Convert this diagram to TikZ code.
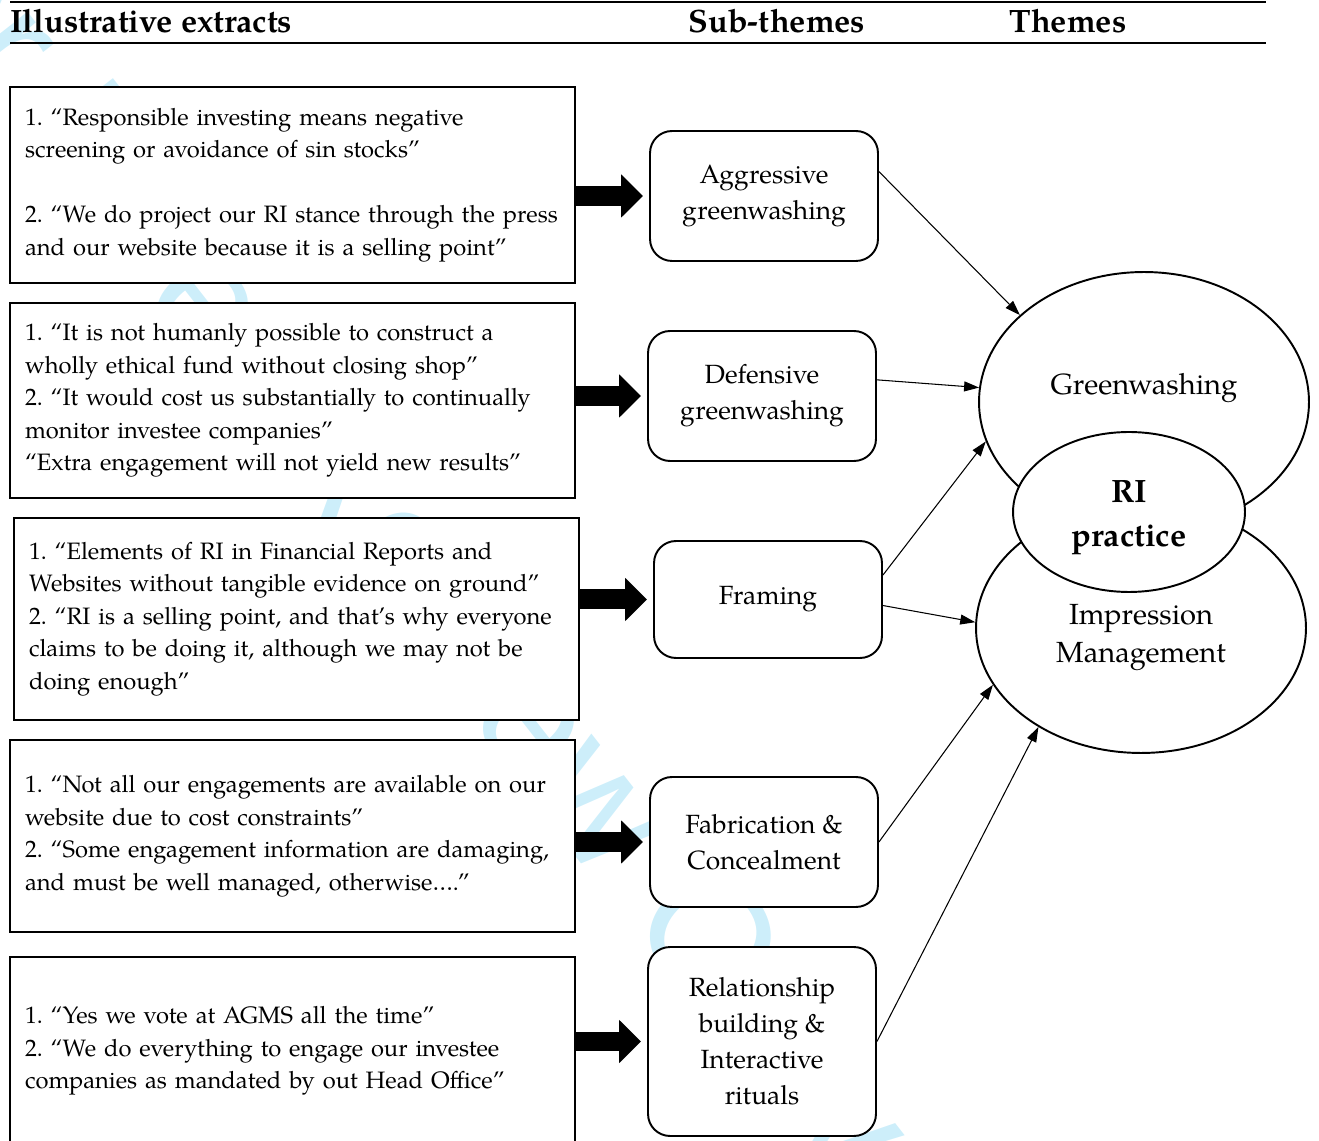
\documentclass[tikz,border=0pt]{standalone}
\usepackage{fontspec}
\setmainfont{TeX Gyre Pagella}
\newfontfamily\wmfont{Liberation Sans}
\usetikzlibrary{arrows.meta,shapes.geometric,positioning}
\definecolor{wmark}{RGB}{205,238,250}
\frenchspacing

\tikzset{
  header/.style={font=\bfseries\fontsize{18.4}{22}\selectfont, inner sep=0pt},
  extract/.style={draw, line width=1.4pt, fill=white, text width=10.7cm,
                  inner xsep=0.3cm, align=left,
                  font=\fontsize{13.5}{18.5}\selectfont},
  subtheme/.style={draw, line width=1.1pt, fill=white, rounded corners=0.44cm,
                   minimum width=4.56cm, align=center,
                   font=\fontsize{15}{20.5}\selectfont},
  theme/.style={ellipse, draw, line width=1.1pt, fill=white, inner sep=0pt},
  themetext/.style={align=center, font=\fontsize{16.6}{22}\selectfont},
  coretext/.style={align=center, font=\bfseries\fontsize{18.4}{25}\selectfont},
  bigarrow/.style={line width=0.4cm, -{Triangle[length=0.44cm,width=0.84cm]},
                   shorten >=0.12cm},
  link/.style={line width=0.6pt, -{Triangle[length=0.3cm,width=0.2cm]}}
}

\begin{document}
\begin{tikzpicture}[x=0.02cm, y=-0.02cm]
  \clip (0,0) rectangle (1319,1141);
  % faint watermark behind everything
  \node[text=wmark, rotate=-52, font=\wmfont\fontsize{95}{100}\selectfont]
       (wm) at (368,521) {For Peer Review Only};
  % column headings
  \draw[line width=0.8pt] (10,2) -- (1266,2);
  \draw[line width=0.8pt] (10,43) -- (1266,43);
  \node[header, anchor=base west] (hext) at (10,33) {Illustrative extracts};
  \node[header, anchor=base] (hsub) at (777,33) {Sub-themes};
  \node[header, anchor=base] (hthm) at (1068,33) {Themes};

  % illustrative extracts
  \node[extract, minimum height=3.92cm] (e1) at (292.5,185)
       {1. “Responsible investing means negative\\
        screening or avoidance of sin stocks”\\[18.5pt]
        2. “We do project our RI stance through the press\\
        and our website because it is a selling point”};
  \node[extract, minimum height=3.9cm] (e2) at (292.5,400.5)
       {1. “It is not humanly possible to construct a\\
        wholly ethical fund without closing shop”\\
        2. “It would cost us substantially to continually\\
        monitor investee companies”\\
        “Extra engagement will not yield new results”};
  \node[extract, minimum height=4.04cm] (e3) at (296.5,619)
       {1. “Elements of RI in Financial Reports and\\
        Websites without tangible evidence on ground”\\
        2. “RI is a selling point, and that’s why everyone\\
        claims to be doing it, although we may not be\\
        doing enough”};
  \node[extract, minimum height=3.84cm] (e4) at (292.5,836)
       {1. “Not all our engagements are available on our\\
        website due to cost constraints”\\
        2. “Some engagement information are damaging,\\
        and must be well managed, otherwise….”};
  \node[extract, minimum height=3.76cm] (e5) at (292.5,1051)
       {1. “Yes we vote at AGMS all the time”\\
        2. “We do everything to engage our investee\\
        companies as mandated by out Head Office”};

  % sub-themes
  \node[subtheme, minimum height=2.6cm]  (agg) at (764,196)    {Aggressive\\greenwashing};
  \node[subtheme, minimum height=2.6cm]  (def) at (762,396)    {Defensive\\greenwashing};
  \node[subtheme, minimum height=2.34cm] (frm) at (768,599.5)  {Framing};
  \node[subtheme, minimum height=2.6cm]  (fab) at (764,842)    {Fabrication \&\\Concealment};
  \node[subtheme, minimum height=3.78cm] (rel) at (762,1041.5) {Relationship\\building \&\\Interactive\\rituals};

  % themes
  \node[theme, minimum width=6.6cm, minimum height=5.2cm,
        label={[themetext, yshift=0.28cm]center:Greenwashing}] (gw) at (1144,402) {};
  \node[theme, minimum width=6.6cm, minimum height=5cm,
        label={[themetext, yshift=-0.19cm]center:Impression\\Management}] (im) at (1141,628) {};
  \node[theme, minimum width=4.64cm, minimum height=3.2cm,
        label={[coretext, yshift=-0.11cm]center:RI\\practice}] (ri) at (1129,512) {};

  % extracts -> sub-themes
  \draw[bigarrow] (agg.west -| e1.east) -- (agg.west);
  \draw[bigarrow] (def.west -| e2.east) -- (def.west);
  \draw[bigarrow] (frm.west -| e3.east) -- (frm.west);
  \draw[bigarrow] (fab.west -| e4.east) -- (fab.west);
  \draw[bigarrow] (rel.west -| e5.east) -- (rel.west);

  % sub-themes -> themes
  \draw[link] (agg.12) -- (gw.145);
  \draw[link] (def.8)  -- (gw.175);
  \draw[link] (frm.12) -- (gw.194);
  \draw[link] (frm.-3) -- (im.178);
  \draw[link] (fab.east) -- (im.201);
  \draw[link] (rel.east) -- (im.224);
\end{tikzpicture}
\end{document}
